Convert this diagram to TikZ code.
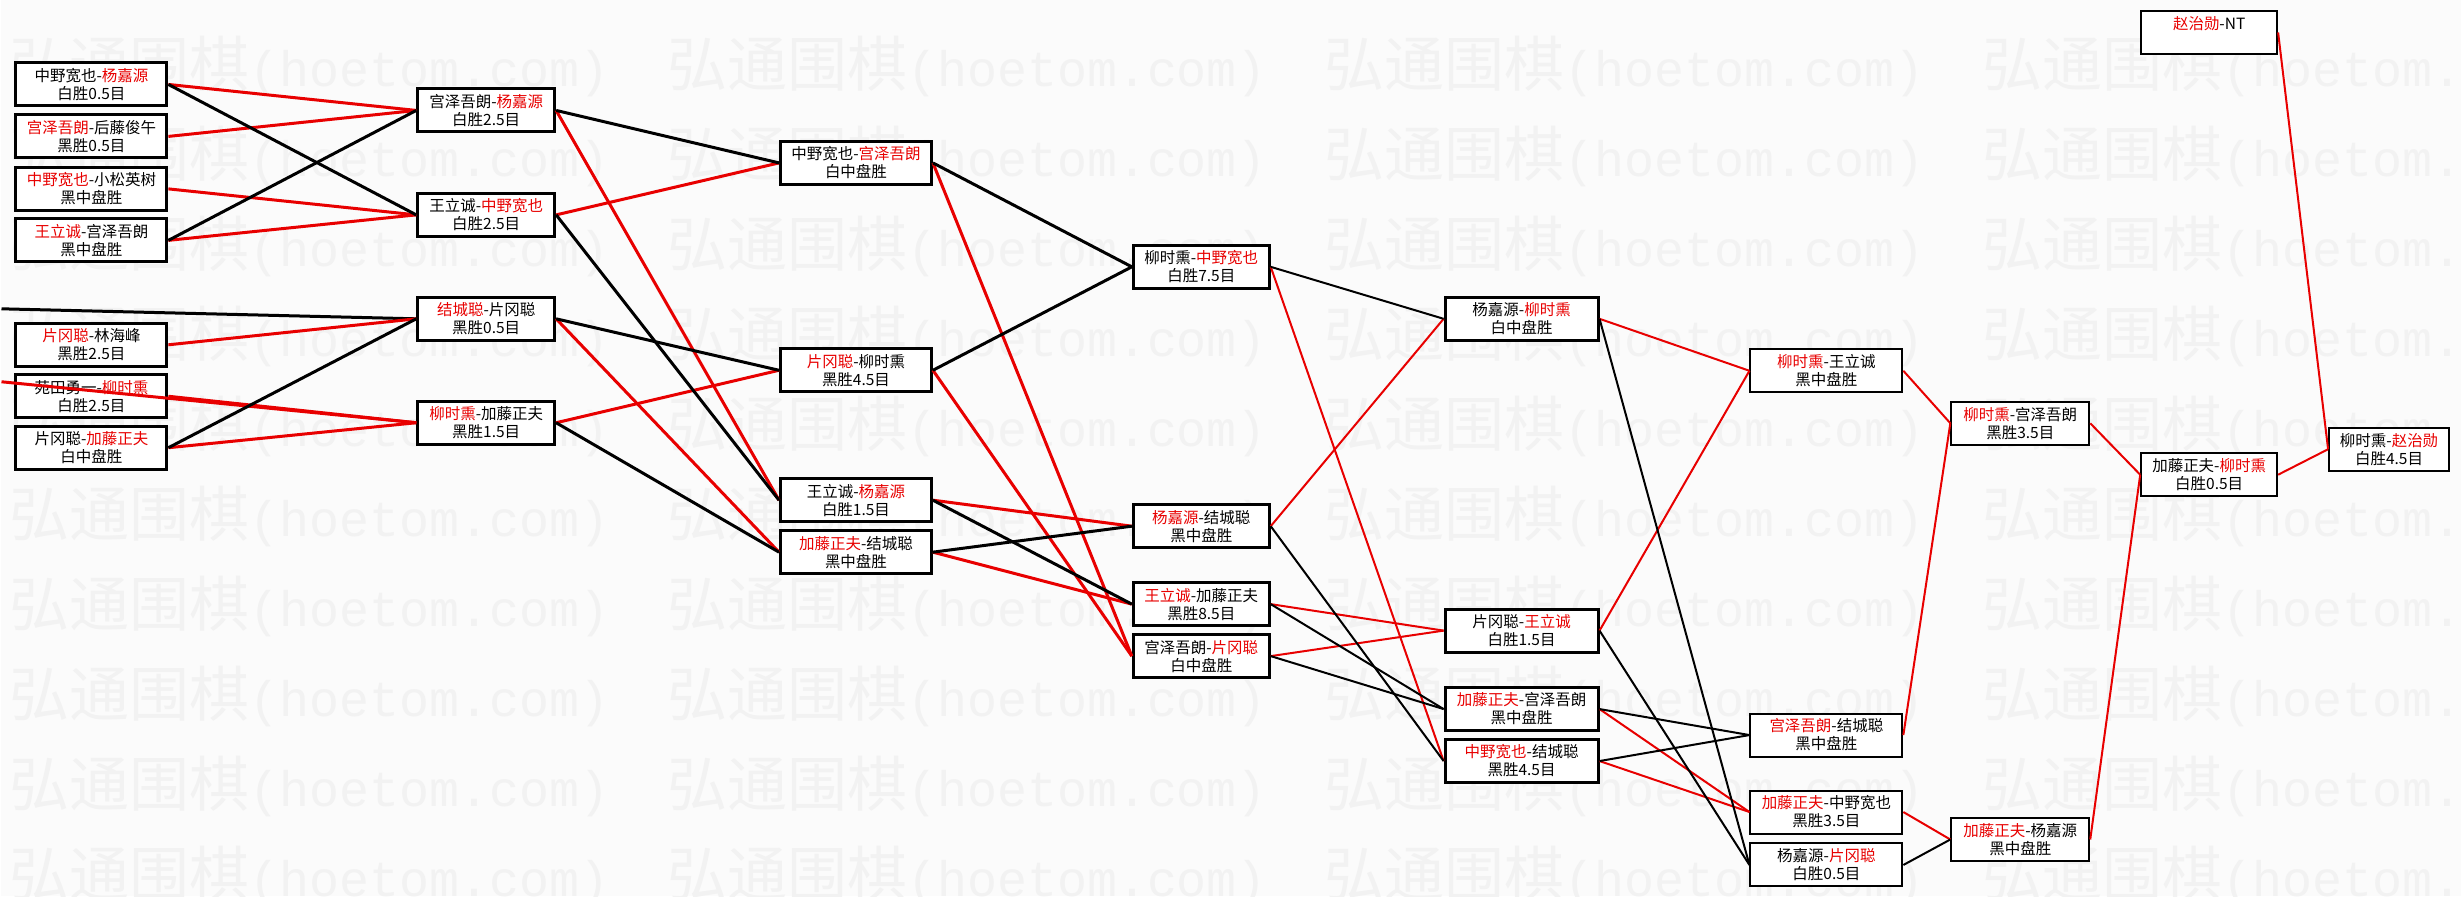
\documentclass[tikz,border=0pt]{standalone}
\usepackage{fontspec}
\setmainfont{Noto Sans CJK SC}
\newfontfamily\wmmono{Liberation Mono}

\definecolor{winred}{RGB}{232,0,0}
\definecolor{paper}{RGB}{251,251,251}
\definecolor{wmgrey}{RGB}{242,242,242}
\newcommand{\sheng}[1]{\textcolor{winred}{#1}}

\begin{document}
\begin{tikzpicture}[x=1pt,y=-1pt,
   game/.style={draw,line width=3pt,fill=white,align=center,inner sep=0pt,
     minimum height=43pt,font=\fontsize{15.5}{18}\selectfont},
   lategame/.style={game,line width=2pt},
   winline/.style={winred,line width=3pt},
   loseline/.style={black,line width=3pt},
   thinwin/.style={winred,line width=2pt},
   thinlose/.style={black,line width=2pt}]
   \fill[paper] (0,0) rectangle (2461,897);
   % watermark
   \begin{scope}
    \clip (0,0) rectangle (2461,897);
    \foreach \r in {0,...,9} {
     \foreach \c in {0,...,3} {
      \node[anchor=west,inner sep=0pt,text=wmgrey] (wm-\r-\c) at ({8+658*\c},{67+90*\r})
        {\fontsize{60}{60}\selectfont 弘通围棋{\wmmono\fontsize{50}{50}\selectfont(hoetom.com)}};
     }
    }
   \end{scope}
   % first round
   \begin{scope}[nodes={game,minimum width=151pt}]
    \node (a1) at (90,84.5) {中野宽也-\sheng{杨嘉源}\\白胜0.5目};
    \node (a2) at (90,136.5) {\sheng{宫泽吾朗}-后藤俊午\\黑胜0.5目};
    \node (a3) at (90,189) {\sheng{中野宽也}-小松英树\\黑中盘胜};
    \node (a4) at (90,240.5) {\sheng{王立诚}-宫泽吾朗\\黑中盘胜};
    \node (a5) at (90,345) {\sheng{片冈聪}-林海峰\\黑胜2.5目};
    \node (a6) at (90,396.5) {苑田勇一-\sheng{柳时熏}\\白胜2.5目};
    \node (a7) at (90,448) {片冈聪-\sheng{加藤正夫}\\白中盘胜};
   \end{scope}
   \begin{scope}[nodes={game,minimum width=137pt}]
    \node (b1) at (485,110.5) {宫泽吾朗-\sheng{杨嘉源}\\白胜2.5目};
    \node (b2) at (485,215) {王立诚-\sheng{中野宽也}\\白胜2.5目};
    \node (b3) at (485,319) {\sheng{结城聪}-片冈聪\\黑胜0.5目};
    \node (b4) at (485,423) {\sheng{柳时熏}-加藤正夫\\黑胜1.5目};
   \end{scope}
   \begin{scope}[nodes={game,minimum width=151pt}]
    \node (c1) at (855,163) {中野宽也-\sheng{宫泽吾朗}\\白中盘胜};
    \node (c2) at (855,370.5) {\sheng{片冈聪}-柳时熏\\黑胜4.5目};
    \node (c3) at (855,500.5) {王立诚-\sheng{杨嘉源}\\白胜1.5目};
    \node (c4) at (855,552.5) {\sheng{加藤正夫}-结城聪\\黑中盘胜};
   \end{scope}
   \begin{scope}[nodes={game,minimum width=136pt}]
    \node (d1) at (1200.5,267) {柳时熏-\sheng{中野宽也}\\白胜7.5目};
    \node (d2) at (1200.5,526.5) {\sheng{杨嘉源}-结城聪\\黑中盘胜};
    \node (d3) at (1200.5,604.5) {\sheng{王立诚}-加藤正夫\\黑胜8.5目};
    \node (d4) at (1200.5,656.5) {宫泽吾朗-\sheng{片冈聪}\\白中盘胜};
   \end{scope}
   \begin{scope}[nodes={game,minimum width=153pt}]
    \node (e1) at (1521,319) {杨嘉源-\sheng{柳时熏}\\白中盘胜};
    \node (e2) at (1521,631) {片冈聪-\sheng{王立诚}\\白胜1.5目};
    \node (e3) at (1521,709.5) {\sheng{加藤正夫}-宫泽吾朗\\黑中盘胜};
    \node (e4) at (1521,761.5) {\sheng{中野宽也}-结城聪\\黑胜4.5目};
   \end{scope}
   \begin{scope}[nodes={lategame,minimum width=152pt}]
    \node (f1) at (1826,371) {\sheng{柳时熏}-王立诚\\黑中盘胜};
    \node (f2) at (1826,735.5) {\sheng{宫泽吾朗}-结城聪\\黑中盘胜};
    \node (f3) at (1826,812.5) {\sheng{加藤正夫}-中野宽也\\黑胜3.5目};
    \node (f4) at (1826,865.5) {杨嘉源-\sheng{片冈聪}\\白胜0.5目};
   \end{scope}
   \begin{scope}[nodes={lategame,minimum width=138pt}]
    \node (g1) at (2020,423.5) {\sheng{柳时熏}-宫泽吾朗\\黑胜3.5目};
    \node (g2) at (2020,840) {\sheng{加藤正夫}-杨嘉源\\黑中盘胜};
   \end{scope}
   \node[lategame,minimum width=136pt] (h1) at (2209,475) {加藤正夫-\sheng{柳时熏}\\白胜0.5目};
   \node[lategame,minimum width=120pt] (fin) at (2389,449.5) {柳时熏-\sheng{赵治勋}\\白胜4.5目};
   \node[lategame,minimum width=136pt] (champ) at (2209,32.5) {\sheng{赵治勋}-NT\\\phantom{白}};
   % players coming in from outside the picture
   \coordinate (inblack) at (0,309);
   \coordinate (inred) at (0,382);
   \draw[loseline] (inblack) -- (b3.west);
   \draw[winline] (inred) -- (b4.west);
   % connectors
   \foreach \s/\t in {a1/b1,a2/b1,a3/b2,a4/b2,a5/b3,a6/b4,a7/b4,b1/c3,b2/c1,b3/c4,b4/c2,
                      c1/d4,c2/d4,c3/d2,c4/d3}
     \draw[winline] (\s.east) -- (\t.west);
   \foreach \s/\t in {a1/b2,a4/b1,a7/b3,b1/c1,b2/c3,b3/c2,b4/c4,c1/d1,c2/d1,c3/d3,c4/d2}
     \draw[loseline] (\s.east) -- (\t.west);
   \foreach \s/\t in {d1/e4,d2/e1,d3/e2,d4/e2,e1/f1,e2/f1,e3/f3,e4/f3,f1/g1,f2/g1,f3/g2,
                      g1/h1,g2/h1,h1/fin,champ/fin}
     \draw[thinwin] (\s.east) -- (\t.west);
   \foreach \s/\t in {d1/e1,d2/e4,d3/e3,d4/e3,e1/f4,e2/f4,e3/f2,e4/f2,f4/g2}
     \draw[thinlose] (\s.east) -- (\t.west);
\end{tikzpicture}
\end{document}
